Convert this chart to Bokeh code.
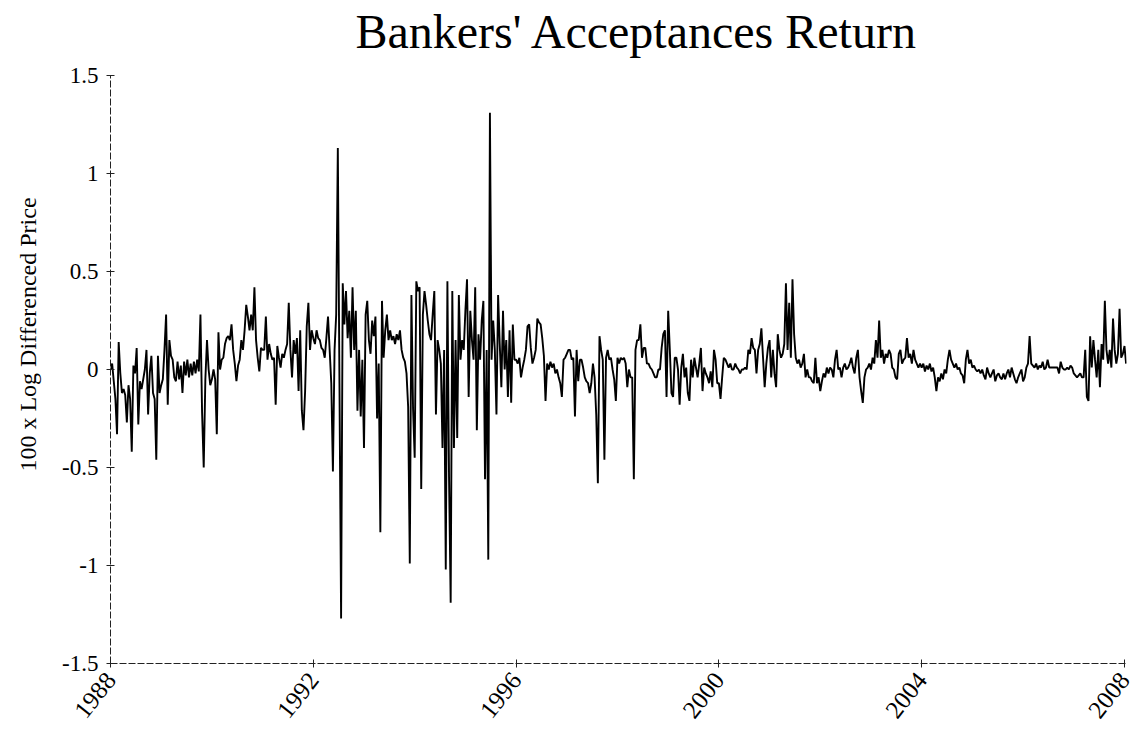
import math
from bokeh.plotting import figure
from bokeh.models import Range1d, FixedTicker, CustomJSTickFormatter, Label
from bokeh.embed import file_html
from bokeh.resources import INLINE

# ---- data: 100 x log differenced price, roughly 31 readings per year ----
v1988 = [0.0, 0.03, -0.06, -0.15, -0.33, 0.14, -0.02, -0.12, -0.10, -0.13, -0.27, -0.08, -0.15, -0.42, 0.02, -0.02,
         0.11, -0.28, -0.06, -0.10, -0.05, 0.0, 0.10, -0.23, -0.02, 0.07, -0.12, -0.15, -0.46, 0.07, -0.12]
v1989 = [-0.08, -0.05, 0.10, 0.28, -0.18, 0.15, 0.07, 0.05, -0.04, -0.06, 0.04, -0.05, 0.02, -0.12, 0.04, -0.03,
         0.05, -0.04, 0.03, -0.03, 0.04, -0.02, 0.05, -0.01, 0.28, -0.22, -0.50, -0.05, 0.15, 0.0, -0.08]
v1990 = [-0.05, 0.0, -0.05, -0.33, 0.19, 0.0, 0.05, 0.06, 0.13, 0.16, 0.17, 0.15, 0.23, 0.10, 0.03, -0.06,
         0.02, 0.05, 0.15, 0.10, 0.20, 0.33, 0.27, 0.20, 0.28, 0.20, 0.42, 0.15, 0.06, -0.01, 0.11]
v1991 = [0.10, 0.10, 0.27, 0.05, 0.13, 0.08, 0.05, 0.06, -0.18, 0.12, 0.06, 0.01, 0.08, 0.06, 0.10, 0.13,
         0.34, 0.10, -0.04, 0.15, 0.08, 0.16, -0.11, 0.20, -0.21, -0.31, -0.11, 0.22, 0.34, 0.10, 0.20]
v1992 = [0.16, 0.13, 0.20, 0.16, 0.15, 0.11, 0.10, 0.06, 0.16, 0.27, 0.10, -0.07, -0.52, 0.10, 0.28, 1.13,
         -0.07, -1.27, 0.44, 0.23, 0.40, 0.16, 0.30, 0.06, 0.42, 0.10, 0.30, -0.21, 0.10, -0.24, 0.05]
v1993 = [-0.40, 0.28, 0.35, 0.15, 0.08, 0.25, 0.17, 0.27, -0.25, 0.03, -0.83, 0.35, 0.06, 0.20, 0.28, 0.15,
         0.20, 0.15, 0.17, 0.13, 0.18, 0.15, 0.20, 0.10, 0.06, 0.04, -0.02, -0.19, -0.99, 0.38, -0.20]
v1994 = [-0.45, 0.45, 0.40, 0.42, -0.61, 0.28, 0.40, 0.33, 0.25, 0.18, 0.15, 0.28, 0.40, -0.23, 0.15, 0.10,
         0.03, -0.40, 0.10, -1.02, 0.45, -0.55, -1.19, 0.40, -0.40, 0.15, -0.35, 0.38, 0.05, 0.15, 0.10]
v1995 = [0.30, 0.46, -0.14, 0.30, 0.15, 0.05, 0.42, -0.31, 0.18, 0.05, 0.25, 0.35, -0.56, 0.10, -0.97, 1.31,
         0.05, 0.25, 0.10, -0.23, 0.38, 0.13, -0.09, 0.30, 0.0, 0.15, -0.14, 0.20, -0.17, 0.23, 0.05]
v1996 = [0.05, 0.03, 0.06, -0.04, 0.01, 0.05, 0.10, 0.22, 0.23, 0.11, 0.03, 0.06, 0.10, 0.26, 0.24, 0.23,
         0.16, 0.07, -0.16, 0.03, 0.0, 0.04, 0.01, 0.03, -0.02, 0.0, -0.04, -0.07, -0.14, 0.05, 0.06]
v1997 = [0.08, 0.10, 0.10, 0.05, 0.06, -0.24, 0.10, -0.06, 0.05, 0.05, 0.01, -0.04, -0.06, -0.07, -0.12, -0.07,
         0.03, -0.04, -0.23, -0.58, 0.17, 0.10, 0.05, -0.46, 0.06, 0.10, 0.05, 0.06, 0.0, -0.05, -0.16]
v1998 = [0.06, 0.03, 0.06, 0.05, 0.06, 0.03, -0.09, 0.0, -0.04, -0.04, -0.56, 0.10, 0.15, 0.15, 0.23, 0.06,
         0.11, 0.11, 0.03, 0.03, 0.01, 0.0, -0.02, -0.04, -0.04, 0.0, 0.0, 0.11, 0.18, 0.20, -0.14]
v1999 = [0.30, 0.10, -0.12, -0.14, 0.06, 0.06, 0.0, -0.18, 0.01, 0.08, -0.04, 0.01, -0.12, -0.16, 0.05, -0.04,
         0.06, 0.01, -0.04, 0.03, 0.11, -0.11, 0.01, -0.02, -0.04, -0.07, -0.01, -0.09, 0.10, 0.05, -0.07]
v2000 = [-0.07, -0.15, -0.04, 0.06, 0.05, 0.03, 0.01, 0.03, 0.0, 0.0, 0.03, 0.01, 0.0, -0.02, 0.0, 0.0,
         0.01, 0.0, 0.10, 0.08, 0.16, 0.11, 0.10, -0.02, 0.10, 0.13, 0.21, 0.06, -0.09, 0.03, 0.11]
v2001 = [0.15, -0.04, 0.10, -0.02, -0.09, 0.18, 0.10, 0.06, 0.08, 0.13, 0.44, 0.10, 0.34, 0.06, 0.46, 0.18,
         0.06, 0.03, 0.05, 0.01, 0.03, 0.08, -0.04, 0.0, -0.04, -0.04, -0.06, -0.07, 0.06, -0.07, -0.04]
v2002 = [-0.11, -0.06, -0.02, -0.04, 0.01, -0.02, 0.01, 0.0, -0.04, 0.05, 0.10, 0.0, 0.01, -0.04, 0.01, 0.03,
         0.0, 0.01, 0.03, 0.06, 0.01, -0.02, 0.06, 0.10, -0.04, -0.11, -0.17, -0.04, 0.0, 0.01, 0.03]
v2003 = [0.0, 0.06, 0.03, 0.15, 0.06, 0.25, 0.06, 0.10, 0.03, 0.08, 0.06, 0.10, 0.08, 0.01, 0.0, -0.04,
         -0.05, 0.08, 0.10, 0.03, 0.05, 0.06, 0.16, 0.06, 0.08, 0.03, 0.10, 0.05, 0.03, 0.01, 0.03]
v2004 = [0.01, 0.03, -0.01, 0.02, 0.0, 0.03, -0.01, 0.01, -0.04, -0.11, -0.04, -0.06, -0.02, -0.05, 0.0, -0.02,
         0.05, 0.10, 0.05, 0.03, 0.01, 0.03, 0.0, 0.01, -0.02, -0.03, -0.07, 0.05, 0.10, 0.03, 0.05]
v2005 = [0.01, 0.02, 0.0, -0.01, 0.0, -0.02, 0.0, -0.03, -0.05, 0.01, -0.02, -0.04, -0.02, 0.0, -0.06, -0.03,
         -0.02, -0.04, -0.05, -0.02, -0.05, -0.02, 0.0, -0.04, 0.01, -0.02, -0.05, -0.07, -0.04, -0.02, 0.0]
v2006 = [-0.06, -0.04, 0.01, 0.03, 0.17, 0.03, 0.02, 0.01, 0.03, 0.0, 0.02, 0.01, 0.04, 0.0, 0.01, 0.05,
         0.01, 0.01, 0.01, 0.01, 0.01, 0.01, -0.02, 0.04, 0.01, 0.0, 0.0, 0.01, 0.0, 0.02, 0.01]
v2007 = [-0.02, -0.03, -0.04, -0.03, -0.02, -0.04, -0.04, 0.10, -0.14, -0.16, 0.17, 0.01, 0.15, 0.05, -0.04, 0.10,
         -0.09, 0.13, 0.05, 0.35, 0.10, 0.03, 0.10, 0.01, 0.26, 0.10, 0.03, 0.08, 0.31, 0.06, 0.08]
v2008 = [0.12, 0.03]

series = {1988: v1988, 1989: v1989, 1990: v1990, 1991: v1991, 1992: v1992, 1993: v1993, 1994: v1994,
          1995: v1995, 1996: v1996, 1997: v1997, 1998: v1998, 1999: v1999, 2000: v2000, 2001: v2001,
          2002: v2002, 2003: v2003, 2004: v2004, 2005: v2005, 2006: v2006, 2007: v2007, 2008: v2008}

year_ticks = [1988, 1992, 1996, 2000, 2004, 2008]
value_ticks = [-1.5, -1, -0.5, 0, 0.5, 1, 1.5]
title_text = "Bankers' Acceptances Return"

dates, vals = [], []
for yr, v in series.items():
    step = 1.0 / 31 if yr == 2008 else 1.0 / len(v)
    for i, val in enumerate(v):
        dates.append(yr + i * step)
        vals.append(val)

FONT = "Liberation Serif"
# the frame reaches up to the canvas top so that the title can sit inside it;
# the value axis itself is bounded to -1.5 .. 1.5 (196 px per unit, 70 px of headroom)
PX_PER_UNIT = 196.0
HEADROOM = 70.0
TOP_BORDER = 5
BOTTOM_BORDER = 73
FRAME_H = 736 - TOP_BORDER - BOTTOM_BORDER

p = figure(width=1134, height=736, output_backend="svg", toolbar_location=None, title=None,
           x_range=Range1d(1988, 2008.04), y_range=Range1d(-1.5, 1.5 + HEADROOM / PX_PER_UNIT),
           min_border_left=110, min_border_right=8, min_border_top=TOP_BORDER,
           min_border_bottom=BOTTOM_BORDER)

p.line(dates, vals, line_color="black", line_width=1.9)

p.add_layout(Label(x=526.5, y=FRAME_H - 26, x_units="screen", y_units="screen", text=title_text,
                   text_font=FONT, text_font_size="48px", text_color="black",
                   text_align="center", text_baseline="alphabetic"))

p.xaxis.ticker = FixedTicker(ticks=year_ticks)
p.xaxis.formatter = CustomJSTickFormatter(code="return tick.toFixed(0);")
p.xaxis.major_label_orientation = 0.9
p.yaxis.ticker = FixedTicker(ticks=value_ticks)
p.yaxis.formatter = CustomJSTickFormatter(code="return tick.toString();")
p.yaxis.bounds = (-1.5, 1.5)
p.yaxis.axis_label = "100 x Log Differenced Price"
p.yaxis.axis_label_text_font = FONT
p.yaxis.axis_label_text_font_size = "24px"
p.yaxis.axis_label_text_font_style = "normal"
p.yaxis.axis_label_text_color = "black"
p.yaxis.axis_label_standoff = 18

for ax in (p.xaxis, p.yaxis):
    ax.axis_line_color = "#222222"
    ax.axis_line_width = 1
    ax.axis_line_dash = "7 2"
    ax.major_tick_line_color = "#222222"
    ax.major_tick_in = 4
    ax.major_tick_out = 4
    ax.minor_tick_line_color = None
    ax.major_label_text_font = FONT
    ax.major_label_text_color = "black"
    ax.major_label_standoff = 8

p.yaxis.major_label_text_font_size = "23px"
p.xaxis.major_label_text_font_size = "25px"

p.grid.grid_line_color = None
p.outline_line_color = None
p.background_fill_color = "white"
p.border_fill_color = "white"

open("out.html", "w").write(file_html(p, INLINE))
